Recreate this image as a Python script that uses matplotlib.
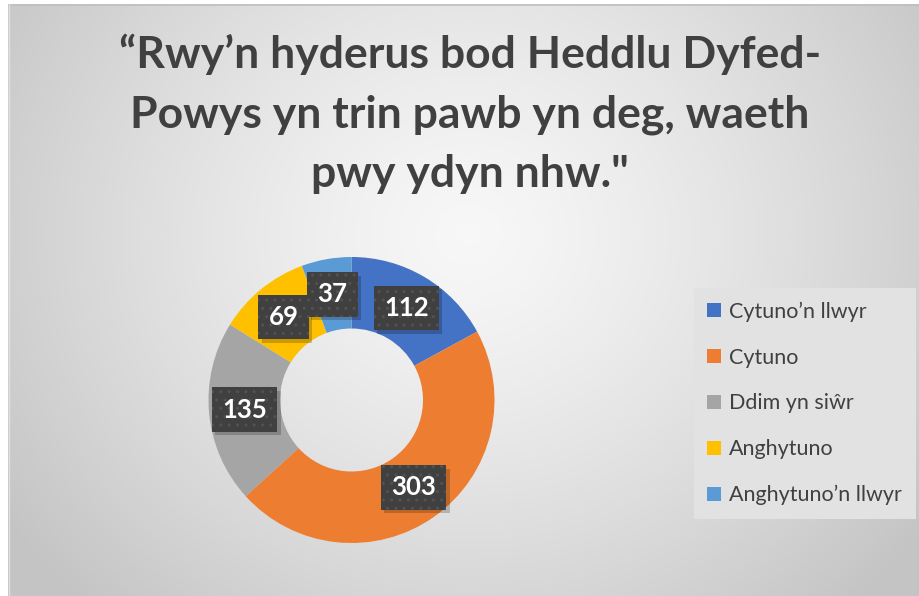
import numpy as np
import matplotlib
matplotlib.use("Agg")
import matplotlib.pyplot as plt
from matplotlib.patches import Patch
import matplotlib.patheffects as pe

categories = ["Cytuno’n llwyr", "Cytuno", "Ddim yn siŵr", "Anghytuno", "Anghytuno’n llwyr"]
values = [112, 303, 135, 69, 37]
colors = ["#4472C4", "#ED7D31", "#A5A5A5", "#FFC000", "#5B9BD5"]
title = "“Rwy’n hyderus bod Heddlu Dyfed-\nPowys yn trin pawb yn deg, waeth\npwy ydyn nhw.\""

W, H = 919, 596
fig = plt.figure(figsize=(W / 100, H / 100), dpi=100)
fig.patch.set_facecolor("white")

# chart area background with radial gradient
x0, y0 = 8, 4
bg = fig.add_axes([x0 / W, 0, (W - x0) / W, (H - y0) / H])
bg.set_axis_off()
gw, gh = W - x0, H - y0
yy, xx = np.mgrid[0:gh, 0:gw]
cx, cy = 460, 230
d = np.sqrt((xx - cx) ** 2 + ((yy - cy) * 1.1) ** 2)
t = np.clip(d / 560, 0, 1)
c_in, c_out = 0.97, 0.77
img = c_in + (c_out - c_in) * t ** 1.3
bg.imshow(np.dstack([img, img, img]), extent=[0, gw, gh, 0], aspect="auto", interpolation="bilinear")
bg.set_xlim(0, gw)
bg.set_ylim(gh, 0)
bg.plot([0, gw], [0.5, 0.5], color="#bfbfbf", lw=1.2)
bg.plot([0.5, 0.5], [0, gh], color="#e0e0e0", lw=1)

fig.text(470 / W, 1 - 114 / H, title, ha="center", va="center", fontsize=32,
         fontweight="bold", family="Lato", color="#404040", linespacing=1.58)

# donut
R = 143
cxp, cyp = 351.5, 400
ax = fig.add_axes([(cxp - R) / W, 1 - (cyp + R) / H, 2 * R / W, 2 * R / H])
ax.set_aspect("equal")
wedges, _ = ax.pie(values, colors=colors, startangle=90, counterclock=False,
                   radius=1.0, wedgeprops=dict(width=0.5, linewidth=0))
ax.set_xlim(-1, 1)
ax.set_ylim(-1, 1)

total = sum(values)
cum = 0
for v in values:
    mid = (cum + v / 2) / total * 360
    ang = np.deg2rad(90 - mid)
    r = 0.75
    px, py = r * np.cos(ang), r * np.sin(ang)
    txt = ax.text(px, py, str(v), ha="center", va="center", fontsize=18.5, fontweight="bold",
                  family="Lato", color="white",
                  bbox=dict(boxstyle="square,pad=0.4", facecolor="#404040", edgecolor="#525252",
                            hatch="..", linewidth=0))
    txt.get_bbox_patch().set_path_effects([
        pe.SimplePatchShadow(offset=(2.5, -2.5), shadow_rgbFace="black", alpha=0.2, hatch=None),
        pe.Normal()])
    cum += v

handles = [Patch(facecolor=c, edgecolor="none") for c in colors]
leg = fig.legend(handles, categories, loc="upper left",
                 bbox_to_anchor=(694 / W, 1 - 288 / H), frameon=True, fancybox=False,
                 prop=dict(family="Lato", size=15.5), labelcolor="#404040",
                 handlelength=0.62, handleheight=0.62, handletextpad=0.4,
                 labelspacing=1.2, borderpad=0.62, borderaxespad=0)
leg.get_frame().set_facecolor("#e2e2e2")
leg.get_frame().set_edgecolor("none")
leg.get_frame().set_alpha(1)

fig.savefig("out.png", dpi=100)
